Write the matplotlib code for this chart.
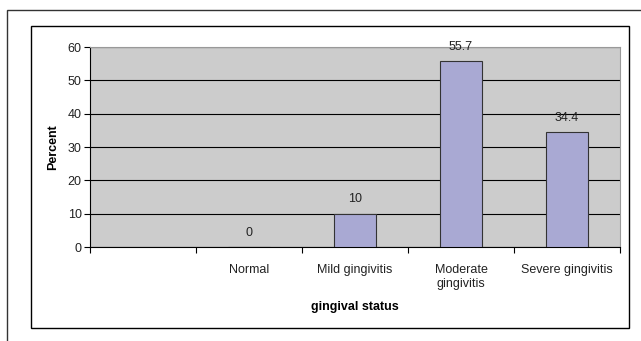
import numpy as np
import matplotlib.pyplot as plt
from matplotlib.patches import Rectangle

plt.rcParams['font.family'] = ['Liberation Sans', 'DejaVu Sans']

categories = ["", "Normal", "Mild gingivitis", "Moderate\ngingivitis", "Severe gingivitis"]
values = [np.nan, 0, 10, 55.7, 34.4]
labels = ["", "0", "10", "55.7", "34.4"]

W, H = 641, 341
fs = 9
fig = plt.figure(figsize=(W/100, H/100), dpi=100)

# outer frame (only top and left are visible) and chart area box
fig.patches.append(Rectangle((7/W, -0.1), 1.2, 1 - 10/H + 0.1, transform=fig.transFigure,
                             fill=False, edgecolor='#333333', linewidth=1.0))
fig.patches.append(Rectangle((31/W, 1 - 328/H), (629-31)/W, (328-26)/H, transform=fig.transFigure,
                             fill=False, edgecolor='black', linewidth=1.0))

ax = fig.add_axes([90/W, 1 - 247/H, (620-90)/W, (247-47)/H])
ax.set_facecolor('#CCCCCC')

x = np.arange(len(categories))
ax.bar(x, values, width=0.4, color='#A9A9D3', edgecolor='#333333', linewidth=0.8, zorder=3)

for xi, v, lab in zip(x, values, labels):
    if lab:
        ax.text(xi, v + 4.3, lab, ha='center', va='center', fontsize=fs, color='#222222', zorder=4)

ax.set_xlim(-0.5, len(categories) - 0.5)
ax.set_ylim(0, 60)
ax.set_yticks(range(0, 61, 10))
ax.tick_params(axis='y', direction='out', length=4, width=0.8, labelsize=fs, pad=2,
               labelcolor='#222222')
ax.yaxis.grid(True, color='black', linewidth=0.8, zorder=1)
ax.set_axisbelow(True)

ax.set_xticks(np.arange(len(categories) + 1) - 0.5)
ax.set_xticklabels([])
ax.tick_params(axis='x', direction='out', length=4, width=0.8)
ax.set_xticks(x, minor=True)
ax.set_xticklabels(categories, minor=True, fontsize=fs, va='top', color='#222222',
                   linespacing=1.3)
ax.tick_params(axis='x', which='minor', length=0, pad=12)

for s in ['top', 'right']:
    ax.spines[s].set_color('#999999')
for s in ['left', 'bottom']:
    ax.spines[s].set_color('black')
    ax.spines[s].set_linewidth(0.8)

ax.set_ylabel('Percent', fontsize=fs, fontweight='bold', labelpad=6)
ax.set_xlabel('gingival status', fontsize=fs, fontweight='bold', labelpad=8)

fig.savefig('out.png', dpi=100)
